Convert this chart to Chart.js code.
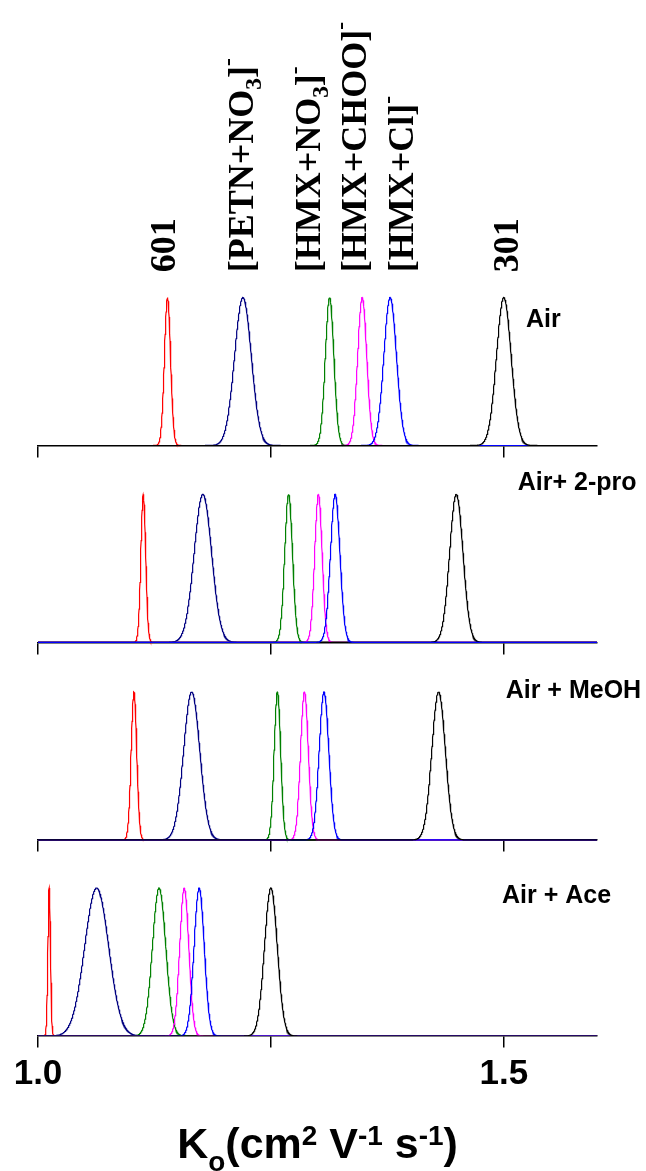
<!DOCTYPE html>
<html lang="en">
<head>
  <meta charset="UTF-8">
  <title>Ko spectra</title>
  <script src="https://cdn.jsdelivr.net/npm/chart.js"></script>
  <style>
    html, body { margin: 0; padding: 0; background: #fff; }
    #wrap { width: 646px; height: 1171px; }
  </style>
</head>
<body>
  <div id="wrap"><canvas id="chart" width="646" height="1171"></canvas></div>
  <script>
    // panels, top to bottom
    const panelNames = ['Air', 'Air+ 2-pro', 'Air + MeOH', 'Air + Ace'];

    // ions: 601, [PETN+NO3]-, [HMX+NO3]-, [HMX+CHOO]-, [HMX+Cl]-, 301
    const seriesColors = ['#ff0000', '#000080', '#008000', '#ff00ff', '#0000ff', '#000000'];

    // peak position K0 (cm2 V-1 s-1) in each gas
    const k0Air  = [1.139, 1.220, 1.313, 1.348, 1.378, 1.500];
    const k0Pro  = [1.113, 1.177, 1.269, 1.301, 1.319, 1.449];
    const k0MeOH = [1.103, 1.165, 1.257, 1.286, 1.307, 1.430];
    const k0Ace  = [1.012, 1.063, 1.130, 1.157, 1.173, 1.250];

    // peak width (sigma, in K0 units)
    const sigAir  = [0.0033, 0.0090, 0.0046, 0.0049, 0.0068, 0.0079];
    const sigPro  = [0.0026, 0.0094, 0.0042, 0.0040, 0.0051, 0.0072];
    const sigMeOH = [0.0030, 0.0087, 0.0035, 0.0042, 0.0052, 0.0073];
    const sigAce  = [0.0014, 0.0129, 0.0072, 0.0049, 0.0055, 0.0069];

    const xTicks = [1.0, 1.25, 1.5];
    const xTickLabels = ['1.0', '', '1.5'];

    // rotated ion labels over the top panel: [text, 0 normal / -1 sub / 1 sup]
    const ionLabels = [
      [['601', 0]],
      [['[PETN+NO', 0], ['3', -1], [']', 0], ['-', 1]],
      [['[HMX+NO', 0], ['3', -1], [']', 0], ['-', 1]],
      [['[HMX+CHOO]', 0], ['-', 1]],
      [['[HMX+Cl]', 0], ['-', 1]],
      [['301', 0]]
    ];
    const ionLabelK0 = [1.134, 1.218, 1.290, 1.339, 1.390, 1.502];

    const k0 = [k0Air, k0Pro, k0MeOH, k0Ace];
    const sig = [sigAir, sigPro, sigMeOH, sigAce];

    // layout: baseline of every panel on the shared y scale
    const panelBase = [3.99, 2.66, 1.325, 0];
    const panelTop = [5, 4, 5, 5]; // series whose baseline sits on top
    const panelLabelAt = [[1.5237, 0.80], [1.515, 1.03], [1.502, 0.96], [1.498, 0.90]];

    function peak(center, s, base) {
      const pts = [];
      for (let i = 0; i <= 2400; i++) {
        const x = 1 + i * 0.00025;
        const d = (x - center) / s;
        pts.push({ x: x, y: base + Math.exp(-0.5 * d * d) });
      }
      return pts;
    }

    const datasets = [];
    k0.forEach((row, p) => {
      row.forEach((c, i) => {
        datasets.push({
          data: peak(c, sig[p][i], panelBase[p]),
          xAxisID: 'x' + p,
          yAxisID: 'y',
          borderColor: seriesColors[i],
          borderWidth: 1.2,
          pointRadius: 0,
          fill: false,
          tension: 0,
          order: i === panelTop[p] ? 0 : 10 - i
        });
      });
    });

    const scales = {
      y: { type: 'linear', min: 0, max: 5, display: false }
    };
    panelBase.forEach((b, p) => {
      const last = p === panelBase.length - 1;
      scales['x' + p] = {
        type: 'linear',
        axis: 'x',
        position: { y: b },
        min: 1.0,
        max: 1.6,
        afterBuildTicks: a => { a.ticks = xTicks.map(v => ({ value: v })); },
        grid: { drawOnChartArea: false, drawTicks: true, tickLength: 11, color: '#000', lineWidth: 1.5 },
        border: { display: true, color: '#000', width: 1.5 },
        ticks: {
          display: last,
          padding: 6,
          color: '#000',
          maxRotation: 0,
          font: { family: '"Liberation Sans", Arial, sans-serif', size: 35, weight: 'bold' },
          callback: (v, idx) => xTickLabels[idx]
        }
      };
    });

    function richWidth(ctx, segs, size, weight, family) {
      let w = 0;
      segs.forEach(([t, m]) => {
        ctx.font = `${weight} ${m === 0 ? size : size * 0.65}px ${family}`;
        w += ctx.measureText(t).width;
      });
      return w;
    }

    function drawRich(ctx, segs, x, y, size, weight, family, drop, rise) {
      segs.forEach(([t, m]) => {
        const s = m === 0 ? size : size * 0.65;
        ctx.font = `${weight} ${s}px ${family}`;
        const dy = m === 0 ? 0 : (m < 0 ? drop : -rise);
        ctx.fillText(t, x, y + dy);
        x += ctx.measureText(t).width;
      });
    }

    const serif = '"Liberation Serif", "Times New Roman", serif';
    const sans = '"Liberation Sans", Arial, sans-serif';

    const overlay = {
      id: 'overlay',
      afterDraw(chart) {
        const ctx = chart.ctx;
        const xs = chart.scales.x0;
        const ys = chart.scales.y;
        ctx.save();
        ctx.fillStyle = '#000';
        ctx.textBaseline = 'alphabetic';
        ctx.textAlign = 'left';

        // ion labels
        const bottom = ys.getPixelForValue(5.16);
        ionLabels.forEach((segs, i) => {
          ctx.save();
          ctx.translate(xs.getPixelForValue(ionLabelK0[i]), bottom);
          ctx.rotate(-Math.PI / 2);
          drawRich(ctx, segs, 0, 12, 36, 'bold', serif, 7.5, 18);
          ctx.restore();
        });

        // panel names
        ctx.font = `bold 25px ${sans}`;
        panelNames.forEach((n, p) => {
          const [kx, dy] = panelLabelAt[p];
          ctx.fillText(n, xs.getPixelForValue(kx), ys.getPixelForValue(panelBase[p] + dy));
        });

        // axis title
        const title = [['K', 0], ['o', -1], ['(cm', 0], ['2', 1], [' V', 0], ['-1', 1], [' s', 0], ['-1', 1], [')', 0]];
        const w = richWidth(ctx, title, 43, 'bold', sans);
        const cx = (chart.chartArea.left + chart.chartArea.right) / 2;
        drawRich(ctx, title, cx - w / 2, ys.getPixelForValue(0) + 122, 43, 'bold', sans, 13, 13);
        ctx.restore();
      }
    };

    new Chart(document.getElementById('chart'), {
      type: 'line',
      data: { datasets: datasets },
      options: {
        responsive: false,
        animation: false,
        devicePixelRatio: 1,
        layout: { padding: { left: 38, right: 49, top: 296, bottom: 135 } },
        plugins: { legend: { display: false }, tooltip: { enabled: false } },
        scales: scales
      },
      plugins: [overlay]
    });
  </script>
</body>
</html>
